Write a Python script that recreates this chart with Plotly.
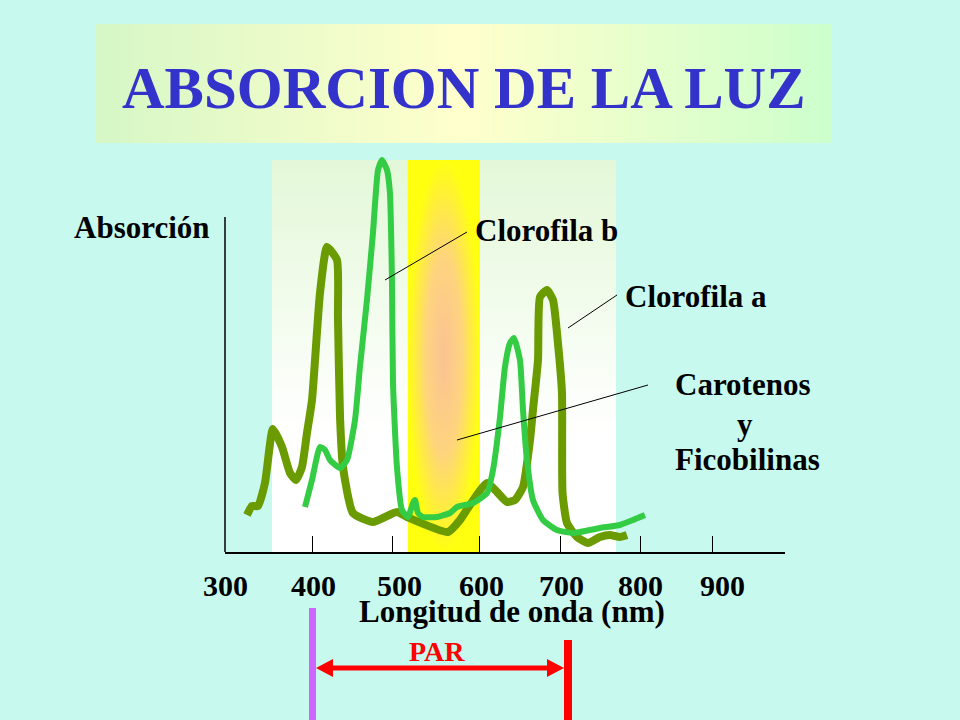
import plotly.graph_objects as go

W, H = 960, 720

# ---------------- data (wavelength in nm, absorption in arbitrary units) -------------
clorofila_a_nm = [320.5, 326.6, 333.8, 342.3, 352.0, 363.0, 372.7, 380.0, 387.2, 393.3,
                  399.4, 409.1, 417.6, 429.7, 430.9, 433.4, 437.0, 449.1, 473.4, 502.5,
                  514.7, 564.4, 579.0, 588.7, 611.8, 623.9, 636.0, 645.8, 655.5, 664.0,
                  667.6, 673.7, 676.1, 684.6, 691.9, 697.9, 702.8, 703.5, 708.9, 721.0,
                  734.4, 748.9, 761.1, 773.2, 781.7]
clorofila_a_abs = [0.0925, 0.115, 0.115, 0.1725, 0.3075, 0.2625, 0.1975, 0.18, 0.2125, 0.2975,
                   0.38, 0.6475, 0.7625, 0.73, 0.5875, 0.3375, 0.2125, 0.0975, 0.075, 0.10,
                   0.0875, 0.05, 0.08, 0.11, 0.1725, 0.15, 0.125, 0.13, 0.1625, 0.28,
                   0.355, 0.48, 0.6375, 0.655, 0.63, 0.5225, 0.3975, 0.1475, 0.0725, 0.0375,
                   0.0225, 0.0375, 0.0425, 0.0375, 0.0425]

clorofila_b_nm = [390.9, 399.4, 409.1, 415.2, 421.2, 433.4, 441.9, 451.6, 457.6, 466.1,
                  473.4, 479.5, 484.3, 490.4, 494.0, 496.5, 497.7, 502.5, 508.6, 515.9,
                  522.0, 524.4, 528.0, 534.1, 551.1, 566.9, 575.4, 594.8, 611.8, 619.1,
                  627.6, 633.6, 639.7, 644.5, 651.8, 655.5, 660.3, 667.6, 679.7, 696.7,
                  716.2, 748.9, 773.2, 789.0, 803.5]
clorofila_b_abs = [0.1125, 0.18, 0.2625, 0.255, 0.23, 0.21, 0.23, 0.33, 0.4625, 0.63,
                   0.7975, 0.955, 0.98, 0.955, 0.8975, 0.6725, 0.4225, 0.2125, 0.105, 0.0875,
                   0.1225, 0.13, 0.0975, 0.0875, 0.0875, 0.0975, 0.1125, 0.1225, 0.1475, 0.205,
                   0.3375, 0.4625, 0.5225, 0.535, 0.48, 0.355, 0.23, 0.13, 0.08, 0.055,
                   0.0475, 0.06, 0.0675, 0.08, 0.0925]

tick_labels = ["300", "400", "500", "600", "700", "800", "900"]

# ---------------- layout helpers (pixel -> paper) ----------------
def px(x):
    return x / W

def py(y):
    return 1 - y / H

BG = "#c8f9ee"
FONT = "Liberation Serif"
DARK = "#6a9b00"
BRIGHT = "#33cc44"

X_RANGE = [293.8, 973.5]
tick_marks_nm = [400.6, 497.7, 603.3, 701.6, 798.7, 884.9]
tick_label_px = [225, 313, 399, 481, 561, 640, 722]

fig = go.Figure()

# light band behind the curves (vertical gradient)
fig.add_trace(go.Scatter(
    x=[350.8, 768.3, 768.3, 350.8, 350.8], y=[0, 0, 0.98, 0.98, 0],
    mode="lines", line=dict(width=0), fill="toself",
    fillgradient=dict(type="vertical", start=0, stop=0.98,
                      colorscale=[[0, "#ffffff"], [0.3, "#ffffff"], [1, "#e3f8d8"]]),
    hoverinfo="skip", showlegend=False))

# visible-light yellow band (radial gradient)
fig.add_trace(go.Scatter(
    x=[515.7, 603.3, 603.3, 515.7, 515.7], y=[0, 0, 0.98, 0.98, 0],
    mode="lines", line=dict(width=0), fill="toself",
    fillgradient=dict(type="radial",
                      colorscale=[[0, "#fbc293"], [0.5, "#fed47e"], [1, "#ffff10"]]),
    hoverinfo="skip", showlegend=False))

# curves
fig.add_trace(go.Scatter(
    x=clorofila_a_nm, y=clorofila_a_abs, mode="lines",
    line=dict(color=DARK, width=8, shape="spline", smoothing=0.5),
    name="Clorofila a", showlegend=False))
fig.add_trace(go.Scatter(
    x=clorofila_b_nm, y=clorofila_b_abs, mode="lines",
    line=dict(color=BRIGHT, width=6, shape="spline", smoothing=0.5),
    name="Clorofila b", showlegend=False))

# title box (on a full-figure pixel axis)
fig.add_trace(go.Scatter(
    x=[96, 832, 832, 96, 96], y=[24, 24, 143, 143, 24],
    xaxis="x2", yaxis="y2", mode="lines", line=dict(width=0), fill="toself",
    fillgradient=dict(type="horizontal",
                      colorscale=[[0, "#d6f7c6"], [0.5, "#ffffcc"], [1, "#ccffcc"]]),
    hoverinfo="skip", showlegend=False))

shapes = []
# vertical axis line
shapes.append(dict(type="line", xref="paper", yref="paper",
                   x0=px(225), x1=px(225), y0=py(217), y1=py(552),
                   line=dict(color="black", width=1.5)))
# leader lines
for (x0, y0, x1, y1) in [(467, 232, 385, 280), (617, 295, 568, 328), (648, 385, 457, 440)]:
    shapes.append(dict(type="line", xref="paper", yref="paper",
                       x0=px(x0), y0=py(y0), x1=px(x1), y1=py(y1),
                       line=dict(color="black", width=1)))
# PAR bars and arrow
shapes.append(dict(type="rect", xref="paper", yref="paper",
                   x0=px(309), x1=px(316), y0=py(608), y1=py(720),
                   line=dict(width=0), fillcolor="#cc66ff"))
shapes.append(dict(type="rect", xref="paper", yref="paper",
                   x0=px(564), x1=px(572), y0=py(640), y1=py(720),
                   line=dict(width=0), fillcolor="#ff0000"))
shapes.append(dict(type="line", xref="paper", yref="paper",
                   x0=px(325), x1=px(556), y0=py(668), y1=py(668),
                   line=dict(color="#ff0000", width=5)))
def tri(tip, base, half):
    return (f"M {px(tip)} {py(668)} L {px(base)} {py(668 - half)} "
            f"L {px(base)} {py(668 + half)} Z")
shapes.append(dict(type="path", xref="paper", yref="paper", path=tri(316, 333, 9),
                   line=dict(width=0), fillcolor="#ff0000"))
shapes.append(dict(type="path", xref="paper", yref="paper", path=tri(564, 547, 9),
                   line=dict(width=0), fillcolor="#ff0000"))

def txt(text, x, y, size=31, color="black", xanchor="center"):
    return dict(text=text, x=px(x), y=py(y), xref="paper", yref="paper",
                xanchor=xanchor, yanchor="middle", showarrow=False,
                font=dict(family=FONT, size=size, color=color, weight="bold"))

annotations = [
    txt("ABSORCION DE LA LUZ", 464, 88, size=59, color="#3333cc"),
    txt("Absorción", 142, 227),
    txt("Clorofila b", 546, 231),
    txt("Clorofila a", 696, 296),
    txt("Carotenos", 742, 384),
    txt("y", 745, 424),
    txt("Ficobilinas", 747, 460),
    txt("Longitud de onda (nm)", 512, 611),
    txt("PAR", 437, 651, size=28, color="#ff0000"),
]
for lab, lx in zip(tick_labels, tick_label_px):
    annotations.append(txt(lab, lx, 585, size=30))

fig.update_layout(
    width=W, height=H, margin=dict(l=0, r=0, t=0, b=0),
    paper_bgcolor=BG, plot_bgcolor="rgba(0,0,0,0)",
    showlegend=False,
    xaxis=dict(domain=[px(225), px(785)], range=X_RANGE, showgrid=False, zeroline=False,
               showline=True, linecolor="black", linewidth=1.5,
               tickmode="array", tickvals=tick_marks_nm, ticks="inside", ticklen=16,
               tickcolor="black", tickwidth=1, showticklabels=False, anchor="y"),
    yaxis=dict(domain=[py(552), py(152)], range=[0, 1], visible=False, anchor="x"),
    xaxis2=dict(domain=[0, 1], range=[0, W], visible=False, anchor="y2"),
    yaxis2=dict(domain=[0, 1], range=[H, 0], visible=False, anchor="x2"),
    shapes=shapes, annotations=annotations,
)

fig.write_html(
    "out.html",
    config={"displayModeBar": False},
    post_script="document.body.style.margin='0';document.body.style.padding='0';"
                "document.documentElement.style.background='" + BG + "';",
)
